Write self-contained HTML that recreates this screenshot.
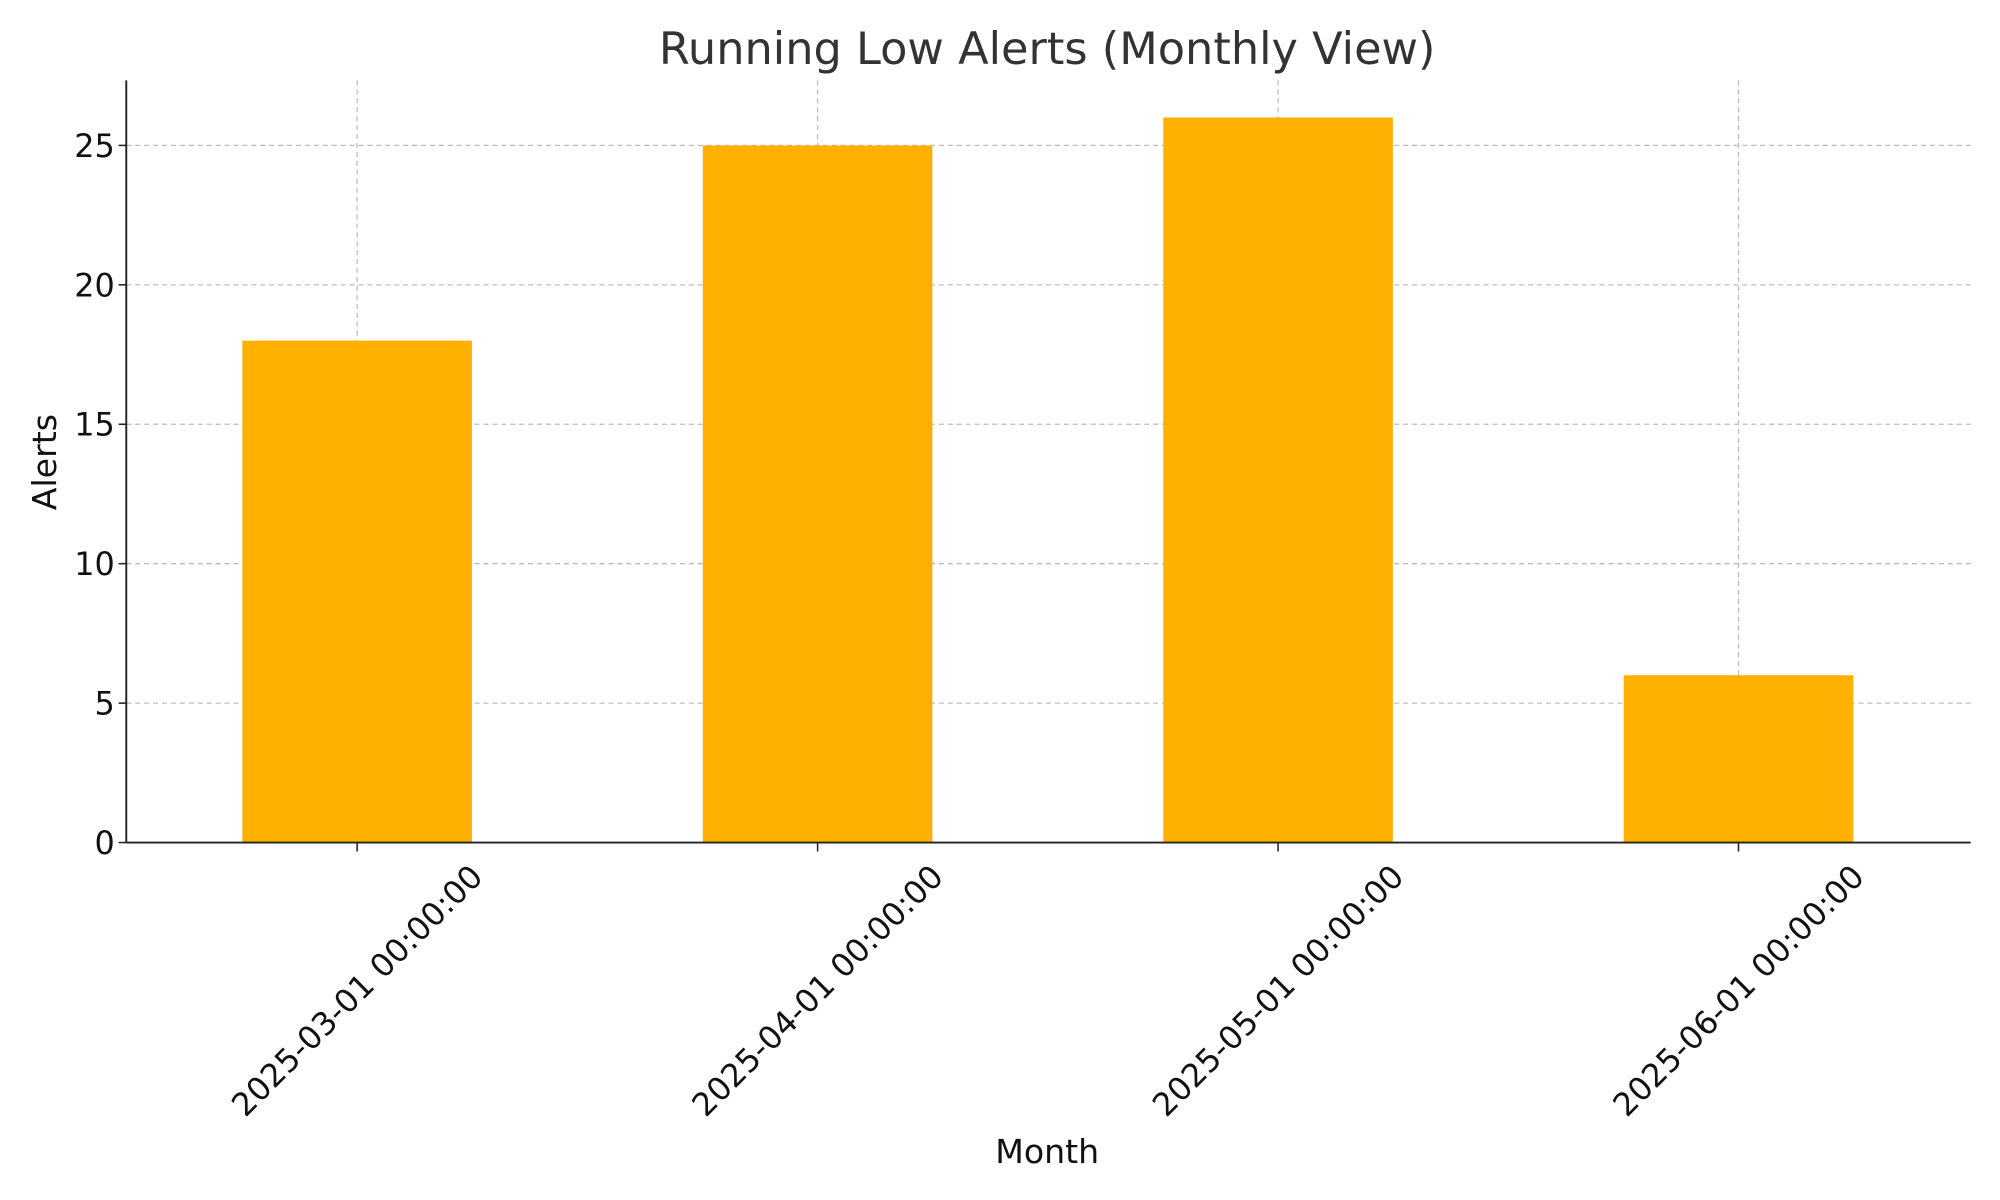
<!DOCTYPE html>
<html><head><meta charset="utf-8"><style>
html,body{margin:0;padding:0;background:#fff;}
svg{display:block;}
text{font-family:"DejaVu Sans","Liberation Sans",sans-serif;fill:#111;}
</style></head><body>
<svg id="chart" width="2000" height="1200" viewBox="0 0 1568 940" preserveAspectRatio="none" xmlns="http://www.w3.org/2000/svg">
<text x="821" y="50" text-anchor="middle" font-size="35" style="fill:#333">Running Low Alerts (Monthly View)</text>
<g id="grid"></g>
<g id="bars"></g>
<g id="axes"></g>
<text x="821" y="911" text-anchor="middle" font-size="26">Month</text>
<text transform="translate(44,362) rotate(-90)" text-anchor="middle" font-size="26">Alerts</text>
</svg>
<script>
const categories = ["2025-03-01 00:00:00","2025-04-01 00:00:00","2025-05-01 00:00:00","2025-06-01 00:00:00"];
const alertValues = [18, 25, 26, 6];
const yTicks = [0, 5, 10, 15, 20, 25];

const NS = "http://www.w3.org/2000/svg";
const L = 99, R = 1545, T = 63, B = 660;
const yMax = 27.33;
function yScale(v){ return B - (B - T) * v / yMax; }
function xScale(i){ return 280 + 361 * i; }
const barW = 180;
function mk(tag, attrs, parent){
  const e = document.createElementNS(NS, tag);
  for (const k in attrs) e.setAttribute(k, attrs[k]);
  parent.appendChild(e);
  return e;
}
const grid = document.getElementById('grid');
const bars = document.getElementById('bars');
const axes = document.getElementById('axes');

yTicks.forEach(t => {
  const y = yScale(t);
  if (t > 0) {
    const g = mk('line', {x1:L, x2:R, y1:y, y2:y, stroke:'#bdbdbd', 'stroke-width':1, 'stroke-dasharray':'4,3'}, grid);
    
    
  }
  const tk = mk('line', {x1:L-6, x2:L, y1:y, y2:y, stroke:'#222', 'stroke-width':1.2}, axes);
  
  
  const lb = mk('text', {x:L-9, y:y+9, 'text-anchor':'end', 'font-size':25}, axes);
  lb.textContent = t;
  
  
});
categories.forEach((c, i) => {
  const x = xScale(i);
  const g = mk('line', {x1:x, x2:x, y1:T, y2:B, stroke:'#bdbdbd', 'stroke-width':1, 'stroke-dasharray':'4,3'}, grid);
  
  
  const y = yScale(alertValues[i]);
  const r = mk('rect', {x:x-barW/2, y:y, width:barW, height:B-y, fill:'#FFB000'}, bars);
  
  
  const tk = mk('line', {x1:x, x2:x, y1:B, y2:B+7, stroke:'#222', 'stroke-width':1.2}, axes);
  
  
  const lb = mk('text', {transform:`translate(${x},${B+116}) rotate(-45)`, 'text-anchor':'middle', 'dominant-baseline':'central', 'font-size':25}, axes);
  lb.textContent = c;
  
  
});
const ax1 = mk('line', {x1:L, x2:L, y1:T, y2:B, stroke:'#222', 'stroke-width':1.5}, axes);


const ax2 = mk('line', {x1:L, x2:R, y1:B, y2:B, stroke:'#222', 'stroke-width':1.5}, axes);


</script>
</body></html>
